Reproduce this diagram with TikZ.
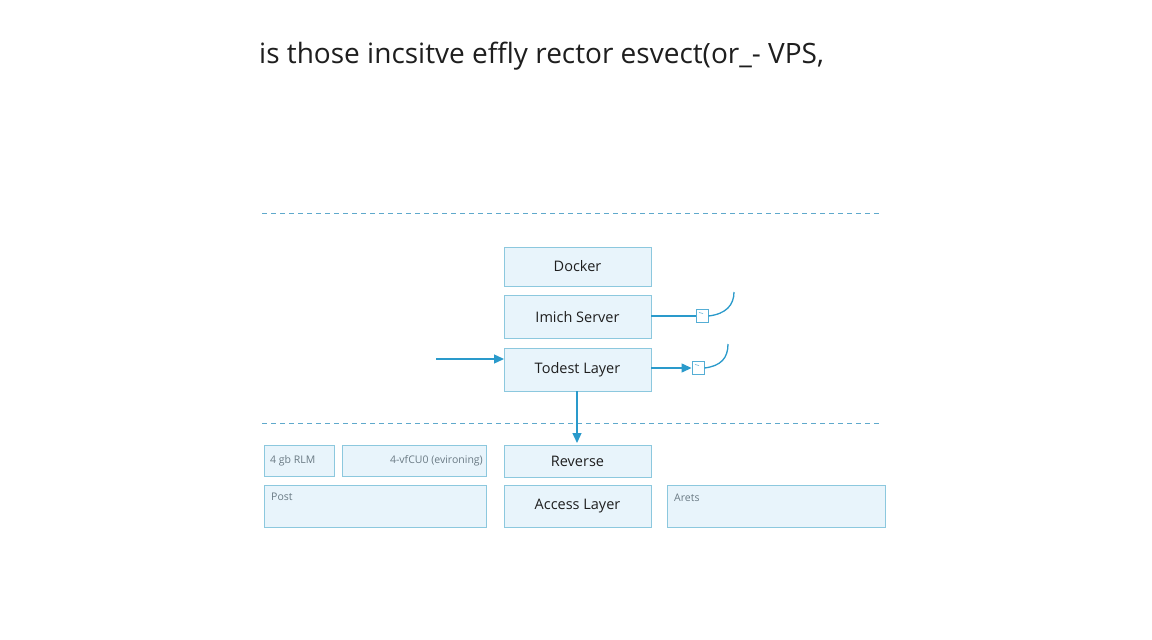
\documentclass[tikz,border=0pt]{standalone}
\usepackage{fontspec}
\setmainfont{Open Sans}
\usetikzlibrary{arrows.meta}
\definecolor{boxfill}{HTML}{E8F4FB}
\definecolor{boxline}{HTML}{8CC8DE}
\definecolor{arrowc}{HTML}{2A9ACB}
\definecolor{dashc}{HTML}{5FA9CC}
\definecolor{txt}{HTML}{1E1E1E}
\definecolor{greytxt}{HTML}{6A7A84}
\tikzset{
  layerbox/.style={draw=boxline, fill=boxfill, line width=0.9pt},
  boxtext/.style={text=txt, font=\fontsize{14.5}{17}\selectfont},
  smalltext/.style={text=greytxt, font=\fontsize{10.5}{12}\selectfont, inner sep=0pt},
  smallbox/.style={draw=arrowc!80, fill=white, line width=0.9pt, minimum width=12pt, minimum height=13pt, inner sep=0pt},
  conn/.style={draw=arrowc, line width=1.3pt},
  arr/.style={conn, -{Triangle[length=10pt,width=9pt]}},
  sep/.style={draw=dashc, line width=0.9pt, dash pattern=on 5pt off 4pt},
}
\begin{document}
\begin{tikzpicture}[x=1pt,y=-1pt]
\useasboundingbox[fill=white] (0,0) rectangle (1152,640);
% title
\node[anchor=base west, inner sep=0pt, text=txt, font=\fontsize{28}{32}\selectfont] (title) at (259,63) {is those incsitve effly rector esvect(or\_- VPS,};
% separators
\coordinate (s1a) at (262,213); \coordinate (s1b) at (882,213);
\coordinate (s2a) at (262,423); \coordinate (s2b) at (882,423);
\draw[sep] (s1a) -- (s1b);
\draw[sep] (s2a) -- (s2b);
% main stack
\path[layerbox] (504,247) rectangle (651,286);
\node[boxtext] (docker) at (577.5,266.5) {Docker};
\path[layerbox] (504,295) rectangle (651,338);
\node[boxtext] (imich) at (577.5,317) {Imich Server};
\path[layerbox] (504,348) rectangle (651,391);
\node[boxtext] (todest) at (577.5,370) {Todest Layer};
\coordinate (todestN) at (577,391);
\coordinate (todestW) at (504,359);
\coordinate (todestE) at (651,368);
\coordinate (imichE) at (651,316);
% lower row
\path[layerbox] (504,445) rectangle (651,477);
\node[boxtext] (reverse) at (577.5,461) {Reverse};
\path[layerbox] (504,485) rectangle (651,527);
\node[boxtext] (access) at (577.5,506) {Access Layer};
\path[layerbox] (264,445) rectangle (334,476);
\node[anchor=west, smalltext] (ram) at (270,460.5) {4 gb RLM};
\path[layerbox] (342,445) rectangle (486,476);
\node[anchor=east, smalltext] (vcpu) at (483,460.5) {4-vfCU0 (evironing)};
\path[layerbox] (264,485) rectangle (486,527);
\node[anchor=west, smalltext] (post) at (271,497) {Post};
\path[layerbox] (667,485) rectangle (885,527);
\node[anchor=west, smalltext] (arets) at (674,498) {Arets};
% connectors
\coordinate (inL) at (436,359);
\draw[arr] (inL) -- (todestW);
\coordinate (revN) at (577,443);
\draw[arr] (todestN) -- (revN);
\node[smallbox] (sb1) at (702,316) {};
\draw[draw=arrowc!80, line width=0.6pt] (699,312.5) -- (703,313.5);
\draw[conn] (imichE) -- (sb1.west);
\coordinate (c1) at (734,292);
\draw[conn] (sb1.east) .. controls (726,314) and (734,305) .. (c1);
\node[smallbox] (sb2) at (698,368) {};
\draw[draw=arrowc!80, line width=0.6pt] (695,364.5) -- (699,365.5);
\draw[arr] (todestE) -- (sb2.west);
\coordinate (c2) at (728,344);
\draw[conn] (sb2.east) .. controls (721,366) and (728,358) .. (c2);
\end{tikzpicture}
\end{document}
